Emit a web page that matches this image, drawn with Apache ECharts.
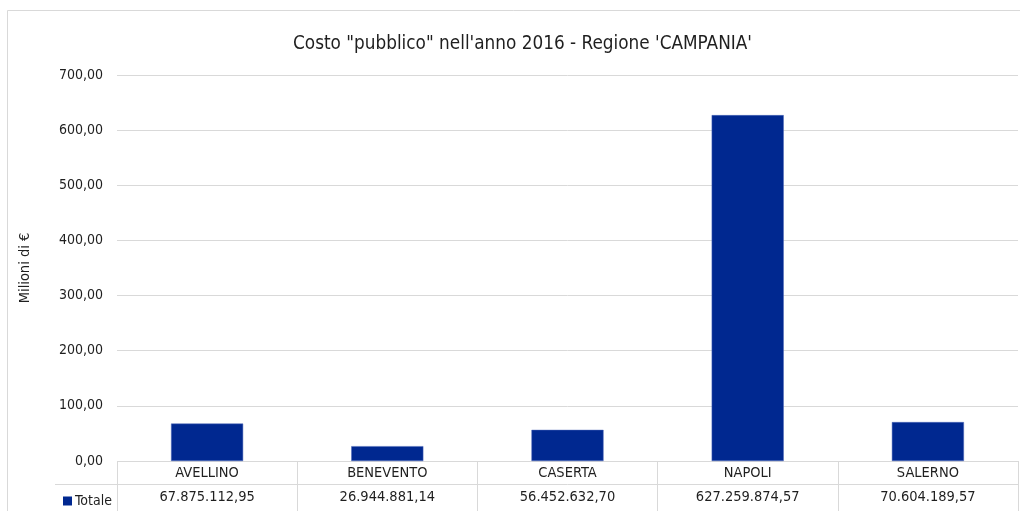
<!DOCTYPE html>
<html>
<head>
<meta charset="utf-8">
<script src="https://cdn.jsdelivr.net/npm/echarts@6/dist/echarts.min.js"></script>
<style>
html,body{margin:0;padding:0;background:#fff;}
#c{width:1020px;height:511px;}
</style>
</head>
<body>
<div id="c"></div>
<script>
var categories = ['AVELLINO', 'BENEVENTO', 'CASERTA', 'NAPOLI', 'SALERNO'];
var totale = [67.87511295, 26.94488114, 56.4526327, 627.25987457, 70.60418957];
var tableValues = ['67.875.112,95', '26.944.881,14', '56.452.632,70', '627.259.874,57', '70.604.189,57'];
var yTicks = [0, 100, 200, 300, 400, 500, 600, 700];
var seriesName = 'Totale';
var titleText = 'Costo "pubblico" nell\'anno 2016 - Regione \'CAMPANIA\'';
var yName = 'Milioni di €';

var FONT = "'Liberation Sans Narrow', 'DejaVu Sans Condensed', 'Arial Narrow', sans-serif";
var GRID_LINE = '#d9d9d9';
var chart = echarts.init(document.getElementById('c'), null, {renderer: 'canvas'});

function fmt(v) {
  return v.toFixed(2).replace('.', ',');
}

chart.setOption({
  backgroundColor: '#ffffff',
  animation: false,
  textStyle: {fontFamily: FONT},
  title: {
    text: titleText,
    left: 288,
    top: 30,
    textStyle: {fontFamily: FONT, fontSize: 18.8, fontWeight: 'normal', color: '#1f1f1f'}
  },
  legend: {
    left: 58,
    top: 489,
    icon: 'rect',
    itemWidth: 9,
    itemHeight: 9,
    itemGap: 4,
    itemStyle: {borderWidth: 0},
    textStyle: {fontFamily: FONT, fontSize: 14, color: '#1f1f1f', padding: [0, 0, 0, -2]},
    data: [seriesName]
  },
  graphic: [
    {type: 'line', shape: {x1: 7.5, y1: 10.5, x2: 1020, y2: 10.5}, style: {stroke: GRID_LINE, lineWidth: 1}, silent: true},
    {type: 'line', shape: {x1: 7.5, y1: 10.5, x2: 7.5, y2: 511}, style: {stroke: GRID_LINE, lineWidth: 1}, silent: true},
    {type: 'line', shape: {x1: 55, y1: 484.5, x2: 117, y2: 484.5}, style: {stroke: GRID_LINE, lineWidth: 1}, silent: true}
  ],
  grid: [
    {left: 117, right: 2, top: 75, bottom: 50},
    {left: 117, right: 2, top: 461, bottom: 0}
  ],
  xAxis: [
    {
      type: 'category',
      gridIndex: 0,
      data: categories,
      axisLine: {show: false},
      axisTick: {show: false},
      axisLabel: {
        margin: 0,
        interval: 0,
        formatter: function (v, i) {
          return '{a|' + v + '}\n{b|' + tableValues[i] + '}';
        },
        rich: {
          a: {fontFamily: FONT, fontSize: 14.5, color: '#1f1f1f', lineHeight: 24},
          b: {fontFamily: FONT, fontSize: 14.5, color: '#1f1f1f', lineHeight: 24}
        }
      }
    },
    {
      type: 'category',
      gridIndex: 1,
      data: categories,
      axisLine: {show: true, lineStyle: {color: GRID_LINE}},
      axisTick: {show: false},
      axisLabel: {show: false},
      splitLine: {show: true, lineStyle: {color: GRID_LINE}}
    }
  ],
  yAxis: [
    {
      type: 'value',
      gridIndex: 0,
      min: 0,
      max: 700,
      interval: 100,
      name: yName,
      nameLocation: 'middle',
      nameGap: 84,
      nameTextStyle: {fontFamily: FONT, fontSize: 14.5, color: '#1f1f1f'},
      axisLine: {show: false},
      axisTick: {show: false},
      axisLabel: {
        margin: 14,
        fontFamily: FONT,
        fontSize: 14,
        color: '#1f1f1f',
        formatter: function (v) { return fmt(v); }
      },
      splitLine: {show: true, lineStyle: {color: GRID_LINE}}
    },
    {
      type: 'value',
      gridIndex: 1,
      min: 0,
      max: 50,
      interval: 27,
      axisLine: {show: false},
      axisTick: {show: false},
      axisLabel: {show: false},
      splitLine: {show: true, lineStyle: {color: GRID_LINE}}
    }
  ],
  series: [
    {
      name: seriesName,
      type: 'bar',
      xAxisIndex: 0,
      yAxisIndex: 0,
      data: totale,
      barWidth: '40%',
      itemStyle: {color: '#002890', borderColor: '#4a66b8', borderWidth: 0.5}
    }
  ]
});
</script>
</body>
</html>
